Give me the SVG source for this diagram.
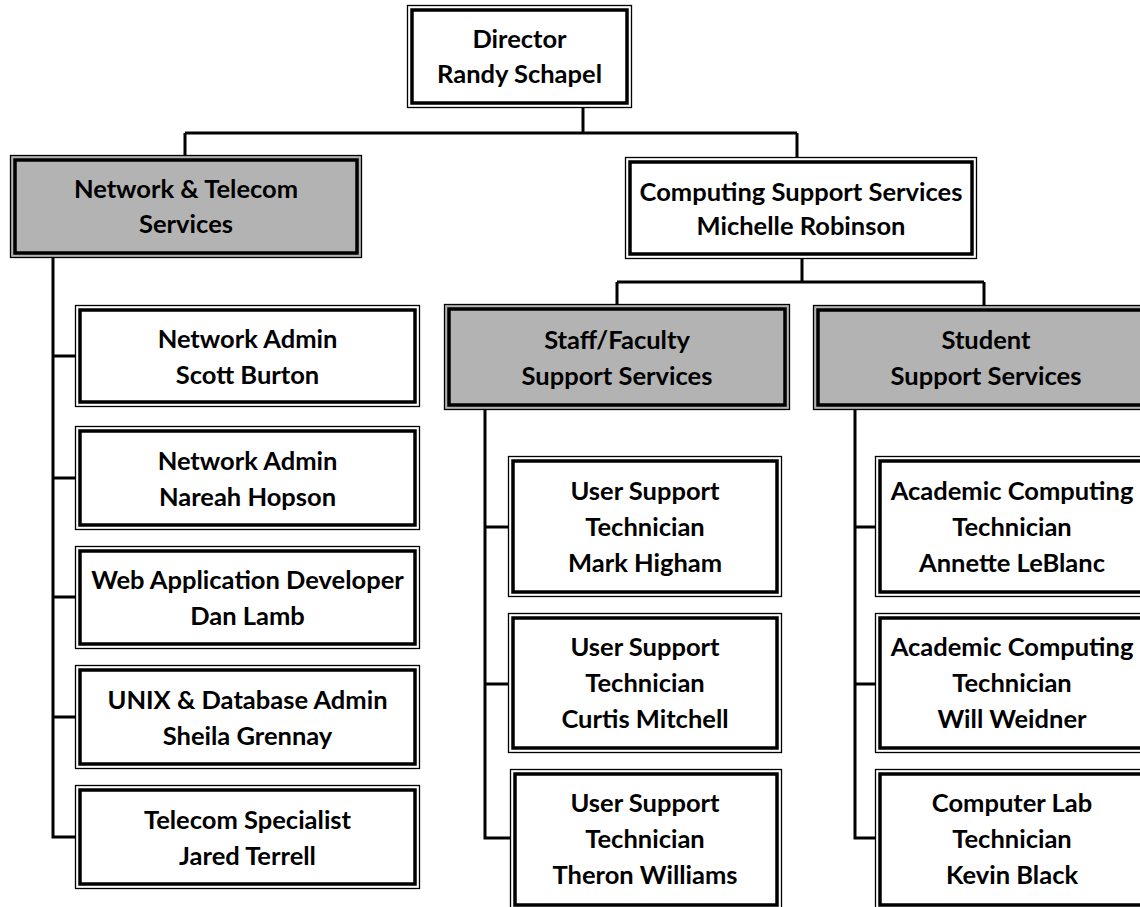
<svg xmlns="http://www.w3.org/2000/svg" width="1140" height="907" viewBox="0 0 1140 907">
<style>
.o{fill:#fff;stroke:#000;stroke-width:1.3}
.g .o{fill:#b3b3b3}
.i{fill:none;stroke:#000;stroke-width:3.5}
text{font-family:Lato,"Liberation Sans",sans-serif;font-weight:bold;font-size:25.5px;fill:#000;text-anchor:middle}
.c{fill:none;stroke:#000;stroke-width:3;stroke-linejoin:miter}
</style>
<rect width="1140" height="907" fill="#fff"/>
<g id="connectors">
<path class="c" d="M583 108V133M185 133H797M185 133V155M797 133V157"/>
<path class="c" d="M802 259V282M617 282H984M617 282V304M984 282V305"/>
<path class="c" d="M53 258V837H75M53 356H75M53 478H75M53 597H75M53 717H75"/>
<path class="c" d="M485 410V838H510M485 527H508M485 684H508"/>
<path class="c" d="M855 410V838H875M855 527H875M855 684H875"/>
</g>
<g id="director"><rect class="o" x="407.5" y="5.5" width="224" height="102"/><rect class="i" x="412" y="10" width="215" height="93"/><text x="519.5" y="48">Director</text><text x="519.5" y="83">Randy Schapel</text></g>
<g id="network-telecom" class="g"><rect class="o" x="10.5" y="155.5" width="351" height="102"/><rect class="i" x="15" y="160" width="342" height="93"/><text x="186" y="198">Network &amp; Telecom</text><text x="186" y="233">Services</text></g>
<g id="computing"><rect class="o" x="625.5" y="157.5" width="351" height="101"/><rect class="i" x="630" y="162" width="342" height="92"/><text x="801" y="201">Computing Support Services</text><text x="801" y="235">Michelle Robinson</text></g>
<g id="staff-faculty" class="g"><rect class="o" x="444.5" y="304.5" width="345" height="105"/><rect class="i" x="449" y="309" width="336" height="96"/><text x="617" y="349">Staff/Faculty</text><text x="617" y="385">Support Services</text></g>
<g id="student" class="g"><rect class="o" x="813.5" y="305.5" width="345" height="104"/><rect class="i" x="818" y="310" width="336" height="95"/><text x="986" y="349">Student</text><text x="986" y="385">Support Services</text></g>
<g id="scott"><rect class="o" x="75.5" y="305.5" width="344" height="101"/><rect class="i" x="80" y="310" width="335" height="92"/><text x="247.5" y="348">Network Admin</text><text x="247.5" y="384">Scott Burton</text></g>
<g id="nareah"><rect class="o" x="75.5" y="426.5" width="344" height="103"/><rect class="i" x="80" y="431" width="335" height="94"/><text x="247.5" y="470">Network Admin</text><text x="247.5" y="506">Nareah Hopson</text></g>
<g id="dan"><rect class="o" x="75.5" y="546.5" width="344" height="102"/><rect class="i" x="80" y="551" width="335" height="93"/><text x="247.5" y="589">Web Application Developer</text><text x="247.5" y="625">Dan Lamb</text></g>
<g id="sheila"><rect class="o" x="75.5" y="665.5" width="344" height="103"/><rect class="i" x="80" y="670" width="335" height="94"/><text x="247.5" y="709">UNIX &amp; Database Admin</text><text x="247.5" y="745">Sheila Grennay</text></g>
<g id="jared"><rect class="o" x="75.5" y="785.5" width="344" height="103"/><rect class="i" x="80" y="790" width="335" height="94"/><text x="247.5" y="829">Telecom Specialist</text><text x="247.5" y="865">Jared Terrell</text></g>
<g id="mark"><rect class="o" x="508.5" y="456.5" width="273" height="140"/><rect class="i" x="513" y="461" width="264" height="131"/><text x="645" y="500">User Support</text><text x="645" y="536">Technician</text><text x="645" y="572">Mark Higham</text></g>
<g id="curtis"><rect class="o" x="508.5" y="613.5" width="273" height="139"/><rect class="i" x="513" y="618" width="264" height="130"/><text x="645" y="656">User Support</text><text x="645" y="692">Technician</text><text x="645" y="728">Curtis Mitchell</text></g>
<g id="theron"><rect class="o" x="510.5" y="769.5" width="271" height="140"/><rect class="i" x="515" y="774" width="262" height="131"/><text x="645" y="812">User Support</text><text x="645" y="848">Technician</text><text x="645" y="884">Theron Williams</text></g>
<g id="annette"><rect class="o" x="875.5" y="456.5" width="273" height="140"/><rect class="i" x="880" y="461" width="264" height="131"/><text x="1012" y="500">Academic Computing</text><text x="1012" y="536">Technician</text><text x="1012" y="572">Annette LeBlanc</text></g>
<g id="will"><rect class="o" x="875.5" y="613.5" width="273" height="139"/><rect class="i" x="880" y="618" width="264" height="130"/><text x="1012" y="656">Academic Computing</text><text x="1012" y="692">Technician</text><text x="1012" y="728">Will Weidner</text></g>
<g id="kevin"><rect class="o" x="875.5" y="769.5" width="273" height="140"/><rect class="i" x="880" y="774" width="264" height="131"/><text x="1012" y="812">Computer Lab</text><text x="1012" y="848">Technician</text><text x="1012" y="884">Kevin Black</text></g>
</svg>
